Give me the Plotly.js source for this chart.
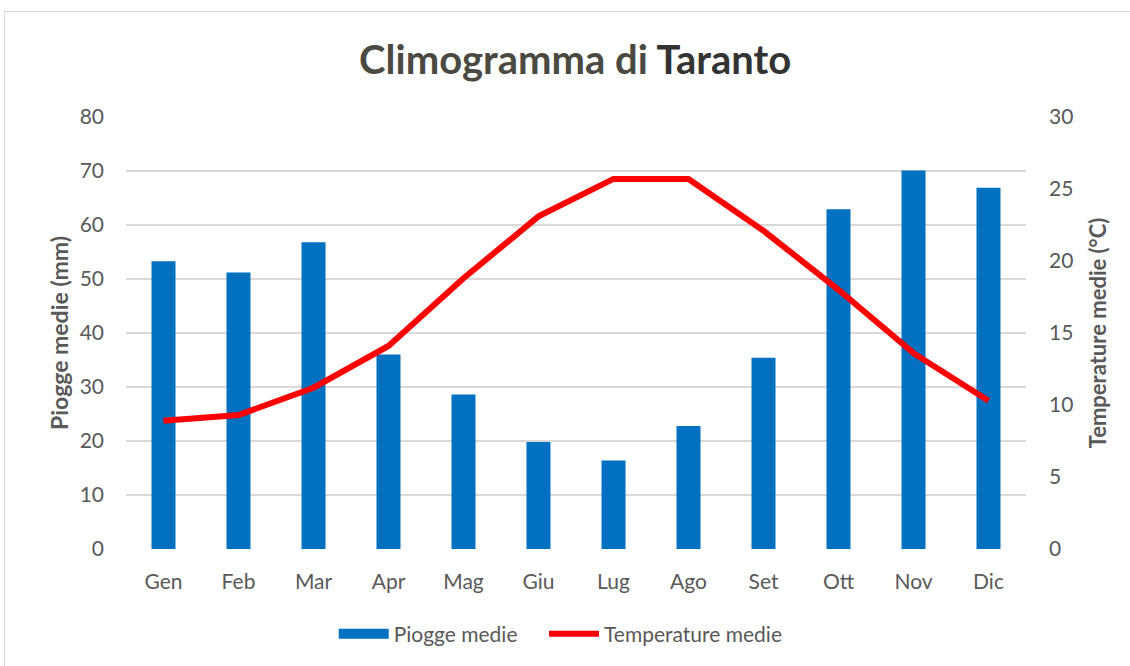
<!DOCTYPE html>
<html>
<head>
<meta charset="utf-8">
<script src="https://cdn.plot.ly/plotly-3.0.1.min.js"></script>
<style>
html,body{margin:0;padding:0;background:#fff;}
#wrap{position:relative;width:1130px;height:666px;overflow:hidden;}
#chart{width:1130px;height:666px;}
#frame{position:absolute;left:4px;top:11px;width:1140px;height:700px;border:1px solid #d9d9d9;pointer-events:none;}
</style>
</head>
<body>
<div id="wrap"><div id="chart"></div><div id="frame"></div></div>
<script>
const months = ["Gen","Feb","Mar","Apr","Mag","Giu","Lug","Ago","Set","Ott","Nov","Dic"];
const piogge = [53.3, 51.2, 56.8, 36.0, 28.6, 19.8, 16.4, 22.8, 35.4, 62.9, 70.1, 66.9];
const temperature = [8.9, 9.3, 11.2, 14.1, 18.8, 23.1, 25.7, 25.7, 22.1, 18.0, 13.6, 10.3];

const FONT = "Lato, 'Open Sans', sans-serif";
const GREY = "#595959";
const BLUE = "#0070C0";

const traces = [
  {
    type: "bar", name: "Piogge medie", x: months, y: piogge,
    marker: {color: BLUE}, yaxis: "y", showlegend: false
  },
  {
    // legend swatch only (no data drawn)
    type: "scatter", mode: "lines", name: "Piogge medie\u00A0\u00A0\u00A0\u00A0", x: [null], y: [null],
    line: {color: BLUE, width: 15}, yaxis: "y", hoverinfo: "skip"
  },
  {
    type: "scatter", mode: "lines", name: "Temperature medie", x: months, y: temperature,
    line: {color: "#FF0000", width: 6}, yaxis: "y2"
  }
];

const layout = {
  width: 1130, height: 666,
  paper_bgcolor: "#ffffff", plot_bgcolor: "#ffffff",
  margin: {l: 126, r: 104, t: 117, b: 116},
  font: {family: FONT, color: GREY, size: 21},
  title: {
    text: "Climogramma di <span style='color:#333333'>Taranto</span>",
    font: {family: FONT, size: 40, color: "#4a4a42", weight: "bold"},
    x: 0.509, xanchor: "center", y: 0.91, yanchor: "middle"
  },
  bargap: 0.68,
  showlegend: true,
  legend: {
    orientation: "h", x: 0.483, xanchor: "center", y: -0.147, yanchor: "top",
    itemwidth: 50, traceorder: "normal",
    font: {family: FONT, size: 21, color: GREY}
  },
  xaxis: {
    tickfont: {family: FONT, size: 21, color: GREY},
    showgrid: false, showline: false, ticks: "", ticklabelstandoff: 18
  },
  yaxis: {
    range: [0, 80], dtick: 10,
    gridcolor: "#d9d9d9", gridwidth: 1.5, zeroline: false,
    showline: false, ticks: "", ticklabelstandoff: 21,
    tickfont: {family: FONT, size: 21, color: GREY},
    title: {text: "Piogge medie (mm)", font: {family: FONT, size: 23, color: GREY, weight: "bold"}, standoff: 4}
  },
  yaxis2: {
    range: [0, 30], dtick: 5, overlaying: "y", side: "right",
    showgrid: false, zeroline: false, showline: false, ticks: "", ticklabelstandoff: 22,
    tickfont: {family: FONT, size: 21, color: GREY},
    title: {text: "Temperature medie (°C)", font: {family: FONT, size: 22, color: GREY, weight: "bold"}, standoff: 18}
  }
};

Plotly.newPlot("chart", traces, layout, {displayModeBar: false, staticPlot: true});
</script>
</body>
</html>
